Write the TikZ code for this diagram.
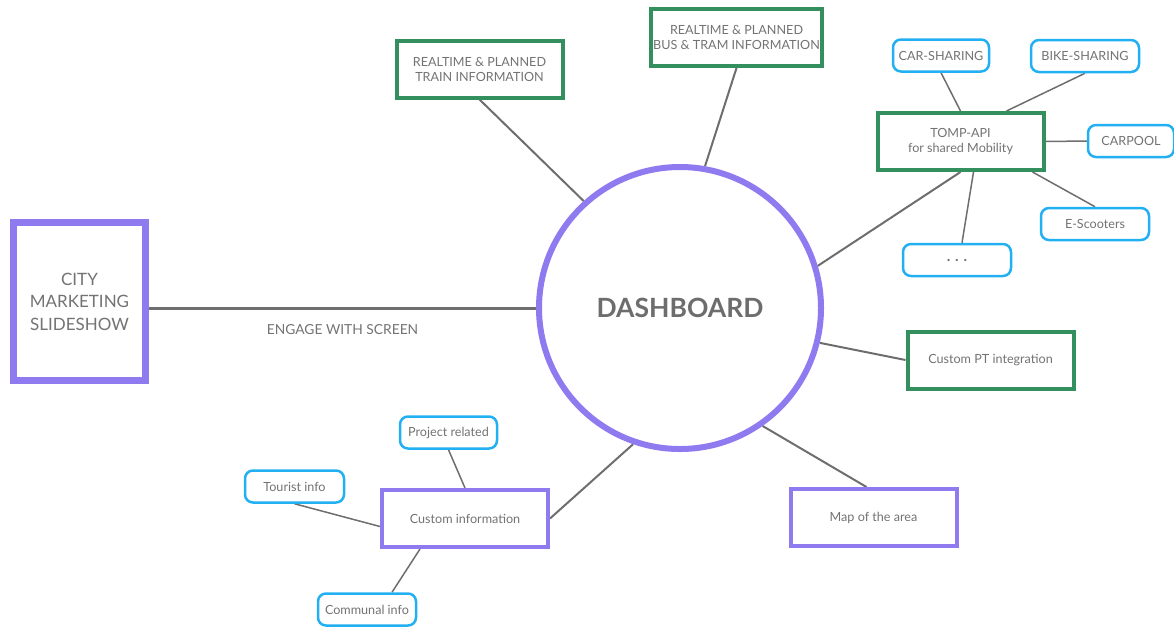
\documentclass[tikz,border=0pt]{standalone}
\usepackage{fontspec}
\setmainfont{Lato}
\usetikzlibrary{positioning, calc, backgrounds}
\definecolor{hubpurple}{HTML}{8F7AEF}
\definecolor{feedgreen}{HTML}{33905E}
\definecolor{leafblue}{HTML}{22B0F2}
\definecolor{labelgray}{HTML}{737373}
\definecolor{linegray}{HTML}{6E6E6E}

\begin{document}
\begin{tikzpicture}[
    x=1pt, y=-1pt,
    text=labelgray,
    box/.style={draw=#1, line width=4pt, fill=white, minimum width=166pt,
                minimum height=57pt, inner sep=2pt, align=center,
                font=\fontsize{12.6}{15}\selectfont},
    leaf/.style={draw=leafblue, line width=2.5pt, rounded corners=8pt, fill=white,
                 minimum width=#1, minimum height=32pt, inner sep=2pt,
                 font=\fontsize{12.6}{14}\selectfont},
    leaf/.default=98pt,
    link/.style={draw=linegray, line width=2pt},
    twig/.style={draw=linegray, line width=1.5pt}
]
    \useasboundingbox (0,0) rectangle (1174,630);

    % hub and the big screen
    \node[circle, draw=hubpurple, line width=6pt, fill=white, minimum size=282pt,
          font=\fontsize{26.5}{30}\selectfont\bfseries, text=labelgray!95!black] (dash) at (680,308) {DASHBOARD};
    \node[draw=hubpurple, line width=7pt, fill=white, minimum width=132pt, minimum height=158pt,
          align=center, font=\fontsize{17}{22.5}\selectfont] (city) at (79.5,301.5) {CITY\\MARKETING\\SLIDESHOW};

    % feeds
    \node[box=feedgreen] (train) at (479.5,69) {REALTIME \& PLANNED\\TRAIN INFORMATION};
    \node[box=feedgreen] (bus) at (736.5,37.5) {REALTIME \& PLANNED\\BUS \& TRAM INFORMATION};
    \node[box=feedgreen] (tomp) at (960.5,141.5) {TOMP-API\\for shared Mobility};
    \node[box=feedgreen] (pt) at (990.5,360) {Custom PT integration};
    \node[box=hubpurple] (map) at (873.5,517.5) {Map of the area};
    \node[box=hubpurple] (info) at (465,518.5) {Custom information};

    % shared mobility providers
    \node[leaf=96pt] (car) at (941,55.5) {CAR-SHARING};
    \node[leaf=108pt] (bike) at (1085,56) {BIKE-SHARING};
    \node[leaf=86pt] (carpool) at (1131,141) {CARPOOL};
    \node[leaf=108pt] (scooter) at (1095,224) {E-Scooters};
    \node[leaf=108pt, font=\fontsize{15}{15}\selectfont\bfseries] (more) at (957,260) {. . .};

    % custom info sources
    \node[leaf=97pt] (project) at (448.5,432.5) {Project related};
    \node[leaf=99pt] (tourist) at (294.5,486.5) {Tourist info};
    \node[leaf=98pt] (communal) at (367,609.5) {Communal info};

    \begin{scope}[on background layer]
        \draw[link, line width=3pt] (dash.west) -- (dash.west -| city.east)
            node[midway, below=12pt, font=\fontsize{13.8}{14}\selectfont] (engage) {ENGAGE WITH SCREEN};
        \draw[link] (train.south) -- (dash.132);
        \draw[link] (bus.south) -- (dash.80);
        \draw[link] (tomp.south) -- (dash.17);
        \draw[link] (pt.west) -- (dash.-14);
        \draw[link] ([xshift=-7pt]map.north) -- (dash.-55);
        \draw[link] (info.east) -- (dash.-109);

        \draw[twig] (car.south) -- (tomp.north);
        \draw[twig] (bike.south) -- ([xshift=46pt]tomp.north);
        \draw[twig] (carpool.west) -- (tomp.east);
        \draw[twig] (scooter.north) -- ([xshift=72pt]tomp.south);
        \draw[twig] ([xshift=5pt]more.north) -- ([xshift=13pt]tomp.south);

        \draw[twig] (project.south) -- (info.north);
        \draw[twig] (tourist.south) -- ([yshift=-8pt]info.west);
        \draw[twig] ([xshift=25pt]communal.north) -- ([xshift=-45pt]info.south);
    \end{scope}
\end{tikzpicture}
\end{document}
